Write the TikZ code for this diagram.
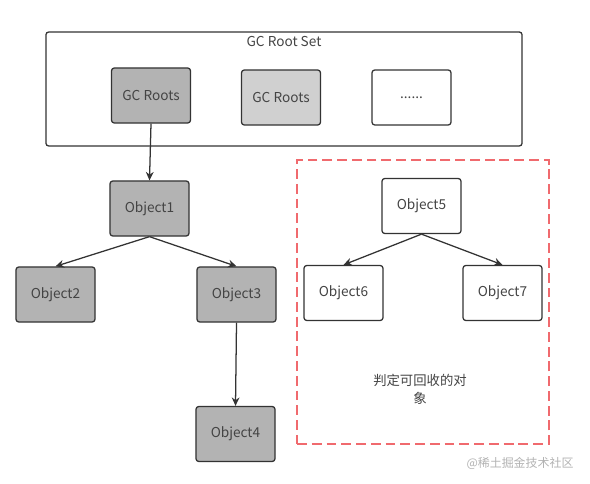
\documentclass[tikz,border=0pt]{standalone}
\usepackage{fontspec}
\setmainfont{Noto Sans CJK SC}
\usetikzlibrary{arrows.meta}

\definecolor{linegray}{HTML}{333333}
\definecolor{textgray}{HTML}{444444}
\definecolor{rootdark}{HTML}{B3B3B3}
\definecolor{rootlight}{HTML}{D0D0D0}
\definecolor{dashred}{HTML}{F06A6E}

\tikzset{
  objbox/.style={draw=linegray, line width=0.9pt, rounded corners=2pt,
    minimum width=1.975cm, minimum height=1.375cm, text=textgray,
    font=\fontsize{9.7}{11}\selectfont},
  ref/.style={draw=linegray, line width=0.9pt, -{Stealth[length=6pt,width=5.5pt]}}
}

\begin{document}
\begin{tikzpicture}[x=0.025cm,y=-0.025cm]
\useasboundingbox (0,0) rectangle (590,484);
% root set frame
\node[draw=linegray, line width=0.9pt, rounded corners=2pt,
  minimum width=11.9cm, minimum height=2.85cm] (rootset) at (284,89) {};
\node[text=textgray, font=\fontsize{9.7}{11}\selectfont] (settitle) at (284,42) {GC Root Set};
\node[objbox, fill=rootdark] (gcr1) at (151,95.5) {GC Roots};
\node[objbox, fill=rootlight] (gcr2) at (281,97.5) {GC Roots};
\node[objbox] (gcr3) at (411.5,97.5) {......};
% reachable objects
\node[objbox, fill=rootdark] (obj1) at (149.5,208.5) {Object1};
\node[objbox, fill=rootdark] (obj2) at (55.5,294.5) {Object2};
\node[objbox, fill=rootdark] (obj3) at (236.5,294.5) {Object3};
\node[objbox, fill=rootdark] (obj4) at (235.5,434) {Object4};
% unreachable objects
\node[draw=dashred, line width=1.3pt, dash pattern=on 7pt off 3.5pt,
  minimum width=6.3cm, minimum height=7.1cm] (garbage) at (423,302) {};
\node[objbox] (obj5) at (421.5,206) {Object5};
\node[objbox] (obj6) at (343.5,293) {Object6};
\node[objbox] (obj7) at (502.5,293) {Object7};
\node[text=textgray, font=\fontsize{9.5}{13}\selectfont, align=center] (label) at (420,389) {判定可回收的对\\象};
\node[text=gray!60, font=\fontsize{8.5}{10}\selectfont] (mark) at (520,463) {@稀土掘金技术社区};

\draw[ref] (gcr1.south) -- (obj1.north);
\draw[ref] (obj1.south) -- (obj2.north);
\draw[ref] (obj1.south) -- (obj3.north);
\draw[ref] (obj3.south) -- (obj4.north);
\draw[ref] (obj5.south) -- (obj6.north);
\draw[ref] (obj5.south) -- (obj7.north);
\end{tikzpicture}
\end{document}
